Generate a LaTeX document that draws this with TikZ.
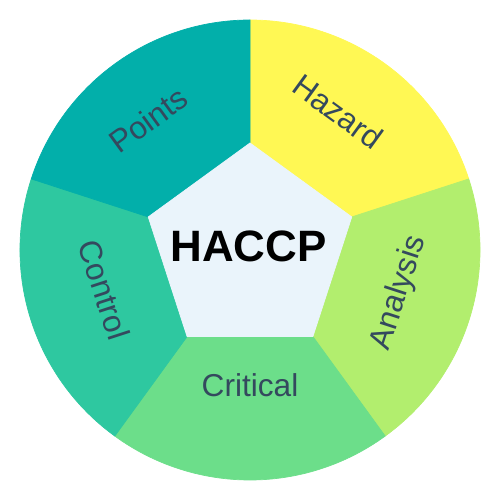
\documentclass[tikz,border=0pt]{standalone}
\usepackage{fontspec}
\setmainfont{Liberation Sans}
\usepackage{tikz}
\usepackage{xcolor}
\definecolor{hazardc}{HTML}{FFF854}
\definecolor{analysisc}{HTML}{B2EE6E}
\definecolor{criticalc}{HTML}{6CDE8A}
\definecolor{controlc}{HTML}{2EC8A0}
\definecolor{pointsc}{HTML}{02AFAA}
\definecolor{hubc}{HTML}{EAF4FB}
\definecolor{lbltext}{HTML}{34495E}

\begin{document}
\begin{tikzpicture}[
  sector/.style={line width=0.4pt, line join=round},
  hub/.style={fill=hubc, draw=hubc, line width=0.4pt, line join=round},
  title/.style={font=\fontsize{25}{27}\selectfont\bfseries, text=black, inner sep=0pt},
  lbl/.style={font=\fontsize{18}{20}\selectfont, text=lbltext, inner sep=0pt}
]
\useasboundingbox (-5,-5) rectangle (5,5);

% ---- the five sectors, pentagon edge out to the rim
\foreach \a/\col [evaluate=\a as \b using \a-72] in
    {90/hazardc, 18/analysisc, -54/criticalc, -126/controlc, 162/pointsc}
  \filldraw[sector, fill=\col, draw=\col]
    (\a:2.14) -- (\a:4.6) arc[start angle=\a, end angle=\b, radius=4.6]
    -- (\b:2.14) -- cycle;

% ---- the hub
\filldraw[hub] (90:2.14) -- (162:2.14) -- (234:2.14) -- (306:2.14) -- (18:2.14) -- cycle;
\node[title] (haccp) at (-0.03,0.08) {HACCP};

% ---- one word per sector
\node[lbl, rotate=-36] (hazard)   at (57.5:3.28)  {Hazard};
\node[lbl, rotate=72]  (analysis) at (-16:3.10)   {Analysis};
\node[lbl]             (critical) at (-90:2.70)   {Critical};
\node[lbl, rotate=-72] (control)  at (195.3:3.02) {Control};
\node[lbl, rotate=36]  (points)   at (128:3.30)   {Points};

\end{tikzpicture}
\end{document}
